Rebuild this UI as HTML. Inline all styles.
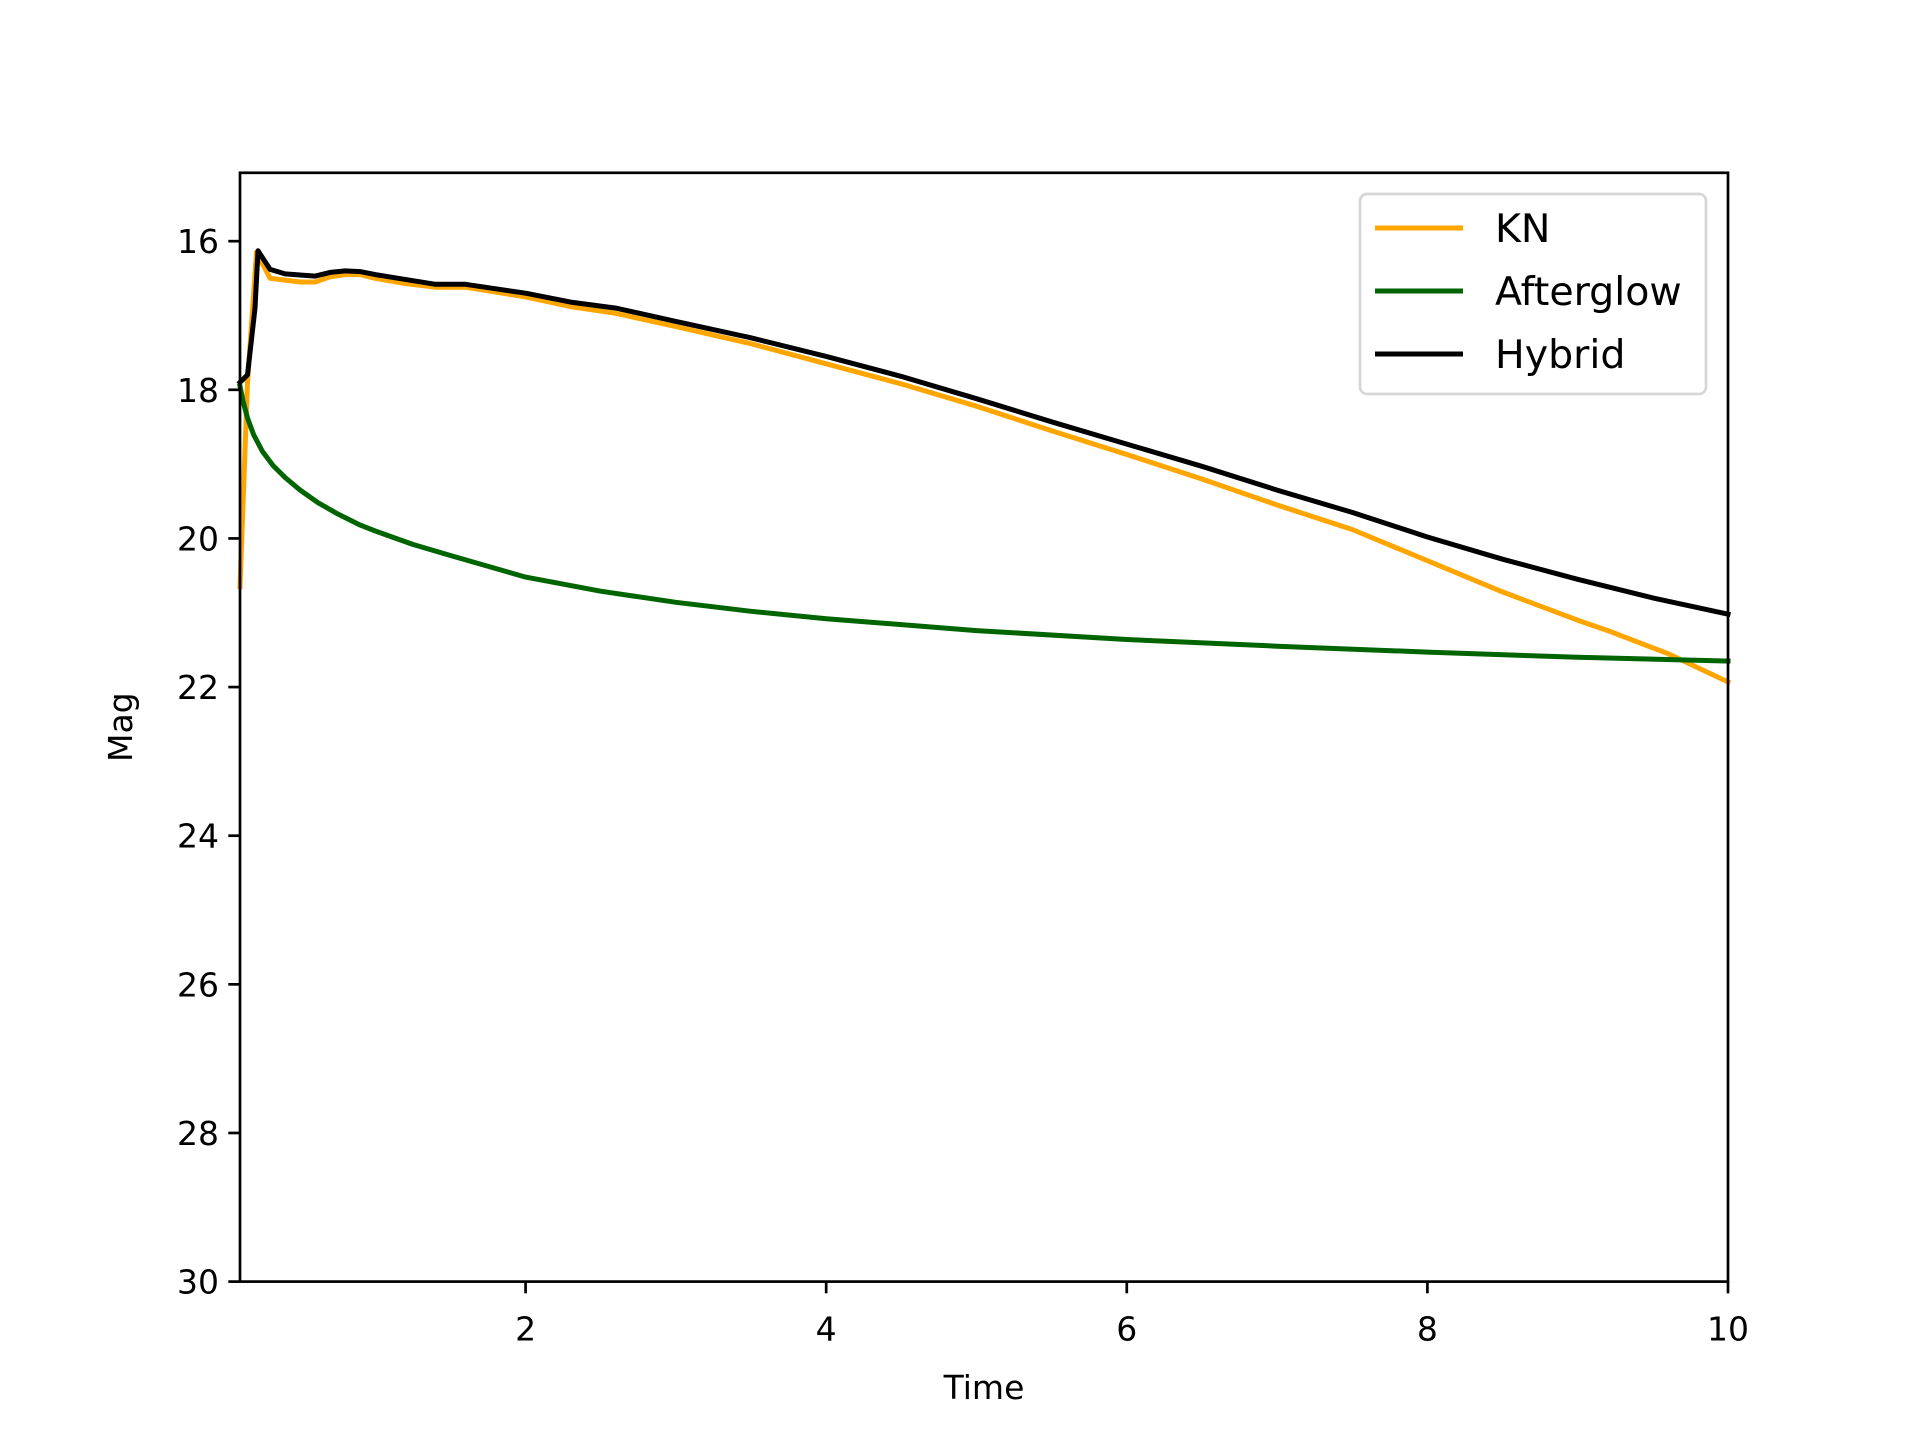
<!DOCTYPE html>
<html><head><meta charset="utf-8"><style>
html,body{margin:0;padding:0;background:#fff}
svg{display:block;font-family:"DejaVu Sans","Liberation Sans",sans-serif}
</style></head><body>
<svg id="chart" width="1920" height="1440" viewBox="0 0 1920 1440" xmlns="http://www.w3.org/2000/svg"></svg>
<script>
const knT = [0.1,0.15,0.21,0.3,0.5,0.6,0.7,0.8,0.9,1.0,1.2,1.4,1.6,2.0,2.3,2.6,3.0,3.5,4.0,4.5,5.0,5.5,6.0,6.5,7.0,7.5,8.0,8.5,9.0,9.2,9.6,10.0];
const knMag = [20.65,17.9,16.15,16.5,16.55,16.55,16.48,16.45,16.45,16.5,16.57,16.62,16.62,16.75,16.88,16.97,17.15,17.38,17.65,17.92,18.22,18.55,18.87,19.2,19.55,19.88,20.3,20.72,21.1,21.24,21.55,21.93];
const hyT = [0.1,0.15,0.2,0.22,0.3,0.4,0.6,0.7,0.8,0.9,1.0,1.4,1.6,2.0,2.3,2.6,3.0,3.5,4.0,4.5,5.0,5.5,6.0,6.5,7.0,7.5,8.0,8.5,9.0,9.5,10.0];
const hyMag = [17.9,17.8,16.9,16.13,16.38,16.44,16.47,16.42,16.4,16.41,16.45,16.58,16.58,16.7,16.82,16.9,17.08,17.3,17.55,17.82,18.12,18.43,18.73,19.03,19.35,19.65,19.98,20.28,20.55,20.8,21.02];
const agT = [0.1,0.12,0.15,0.19,0.25,0.32,0.4,0.5,0.62,0.75,0.9,1.0,1.25,1.5,2.0,2.5,3.0,3.5,4.0,5.0,6.0,7.0,8.0,9.0,10.0];
const agMag = [17.95,18.15,18.38,18.6,18.83,19.02,19.18,19.35,19.52,19.67,19.82,19.9,20.08,20.23,20.52,20.71,20.86,20.98,21.08,21.24,21.36,21.45,21.53,21.6,21.65];
const xTicks = [2,4,6,8,10];
const yTicks = [16,18,20,22,24,26,28,30];

const svg = document.getElementById('chart');
const NS = 'http://www.w3.org/2000/svg';
const L=240,R=1728,T=172.8,B=1281.6;
const xMin=0.1,xMax=10,yTop=15.08,yBot=30;
const xs = v => L+(v-xMin)/(xMax-xMin)*(R-L);
const ys = v => T+(v-yTop)/(yBot-yTop)*(B-T);
function mk(tag, attrs){const e=document.createElementNS(NS,tag);for(const k in attrs)e.setAttribute(k,attrs[k]);svg.appendChild(e);return e;}

function series(tArr,mArr,color,name){
  const d=tArr.map((t,i)=>(i?'L':'M')+xs(t).toFixed(1)+','+ys(mArr[i]).toFixed(1)).join(' ');
  const p=mk('path',{d:d,fill:'none',stroke:color,'stroke-width':5,'stroke-linejoin':'round','stroke-linecap':'square'});
  
  
}
series(knT,knMag,'#ffa500','kn-line');
series(agT,agMag,'#006400','afterglow-line');
series(hyT,hyMag,'#000000','hybrid-line');

const frame=mk('rect',{x:L,y:T,width:R-L,height:B-T,fill:'none',stroke:'#000','stroke-width':2.7});



xTicks.forEach(v=>{
  const x=xs(v);
  const t=mk('line',{x1:x,y1:B,x2:x,y2:B+11.7,stroke:'#000','stroke-width':2.7});
  
  
  const lb=mk('text',{x:x,y:B+59,'font-size':33,'text-anchor':'middle'});
  lb.textContent=v;
  
  
});
yTicks.forEach(v=>{
  const y=ys(v);
  const t=mk('line',{x1:L-11.7,y1:y,x2:L,y2:y,stroke:'#000','stroke-width':2.7});
  
  
  const lb=mk('text',{x:L-21,y:y+12,'font-size':33,'text-anchor':'end'});
  lb.textContent=v;
  
  
});
const xl=mk('text',{x:(L+R)/2,y:1399,'font-size':33,'text-anchor':'middle'});
xl.textContent='Time';


const yl=mk('text',{x:0,y:0,'font-size':33,'text-anchor':'middle',transform:'translate(132,'+((T+B)/2)+') rotate(-90)'});
yl.textContent='Mag';



const lg=mk('rect',{x:1360,y:194,width:346,height:200,rx:7,fill:'#fff','fill-opacity':0.8,stroke:'#d6d6d6','stroke-width':2.7});


const legNames=['KN','Afterglow','Hybrid'];
const legColors=['#ffa500','#006400','#000000'];
legNames.forEach((n,i)=>{
  const y=228+i*63;
  const ln=mk('line',{x1:1375,y1:y,x2:1463,y2:y,stroke:legColors[i],'stroke-width':5});
  
  
  const tx=mk('text',{x:1495,y:y+14,'font-size':39.5});
  tx.textContent=n;
  
  
});
</script>
</body></html>
